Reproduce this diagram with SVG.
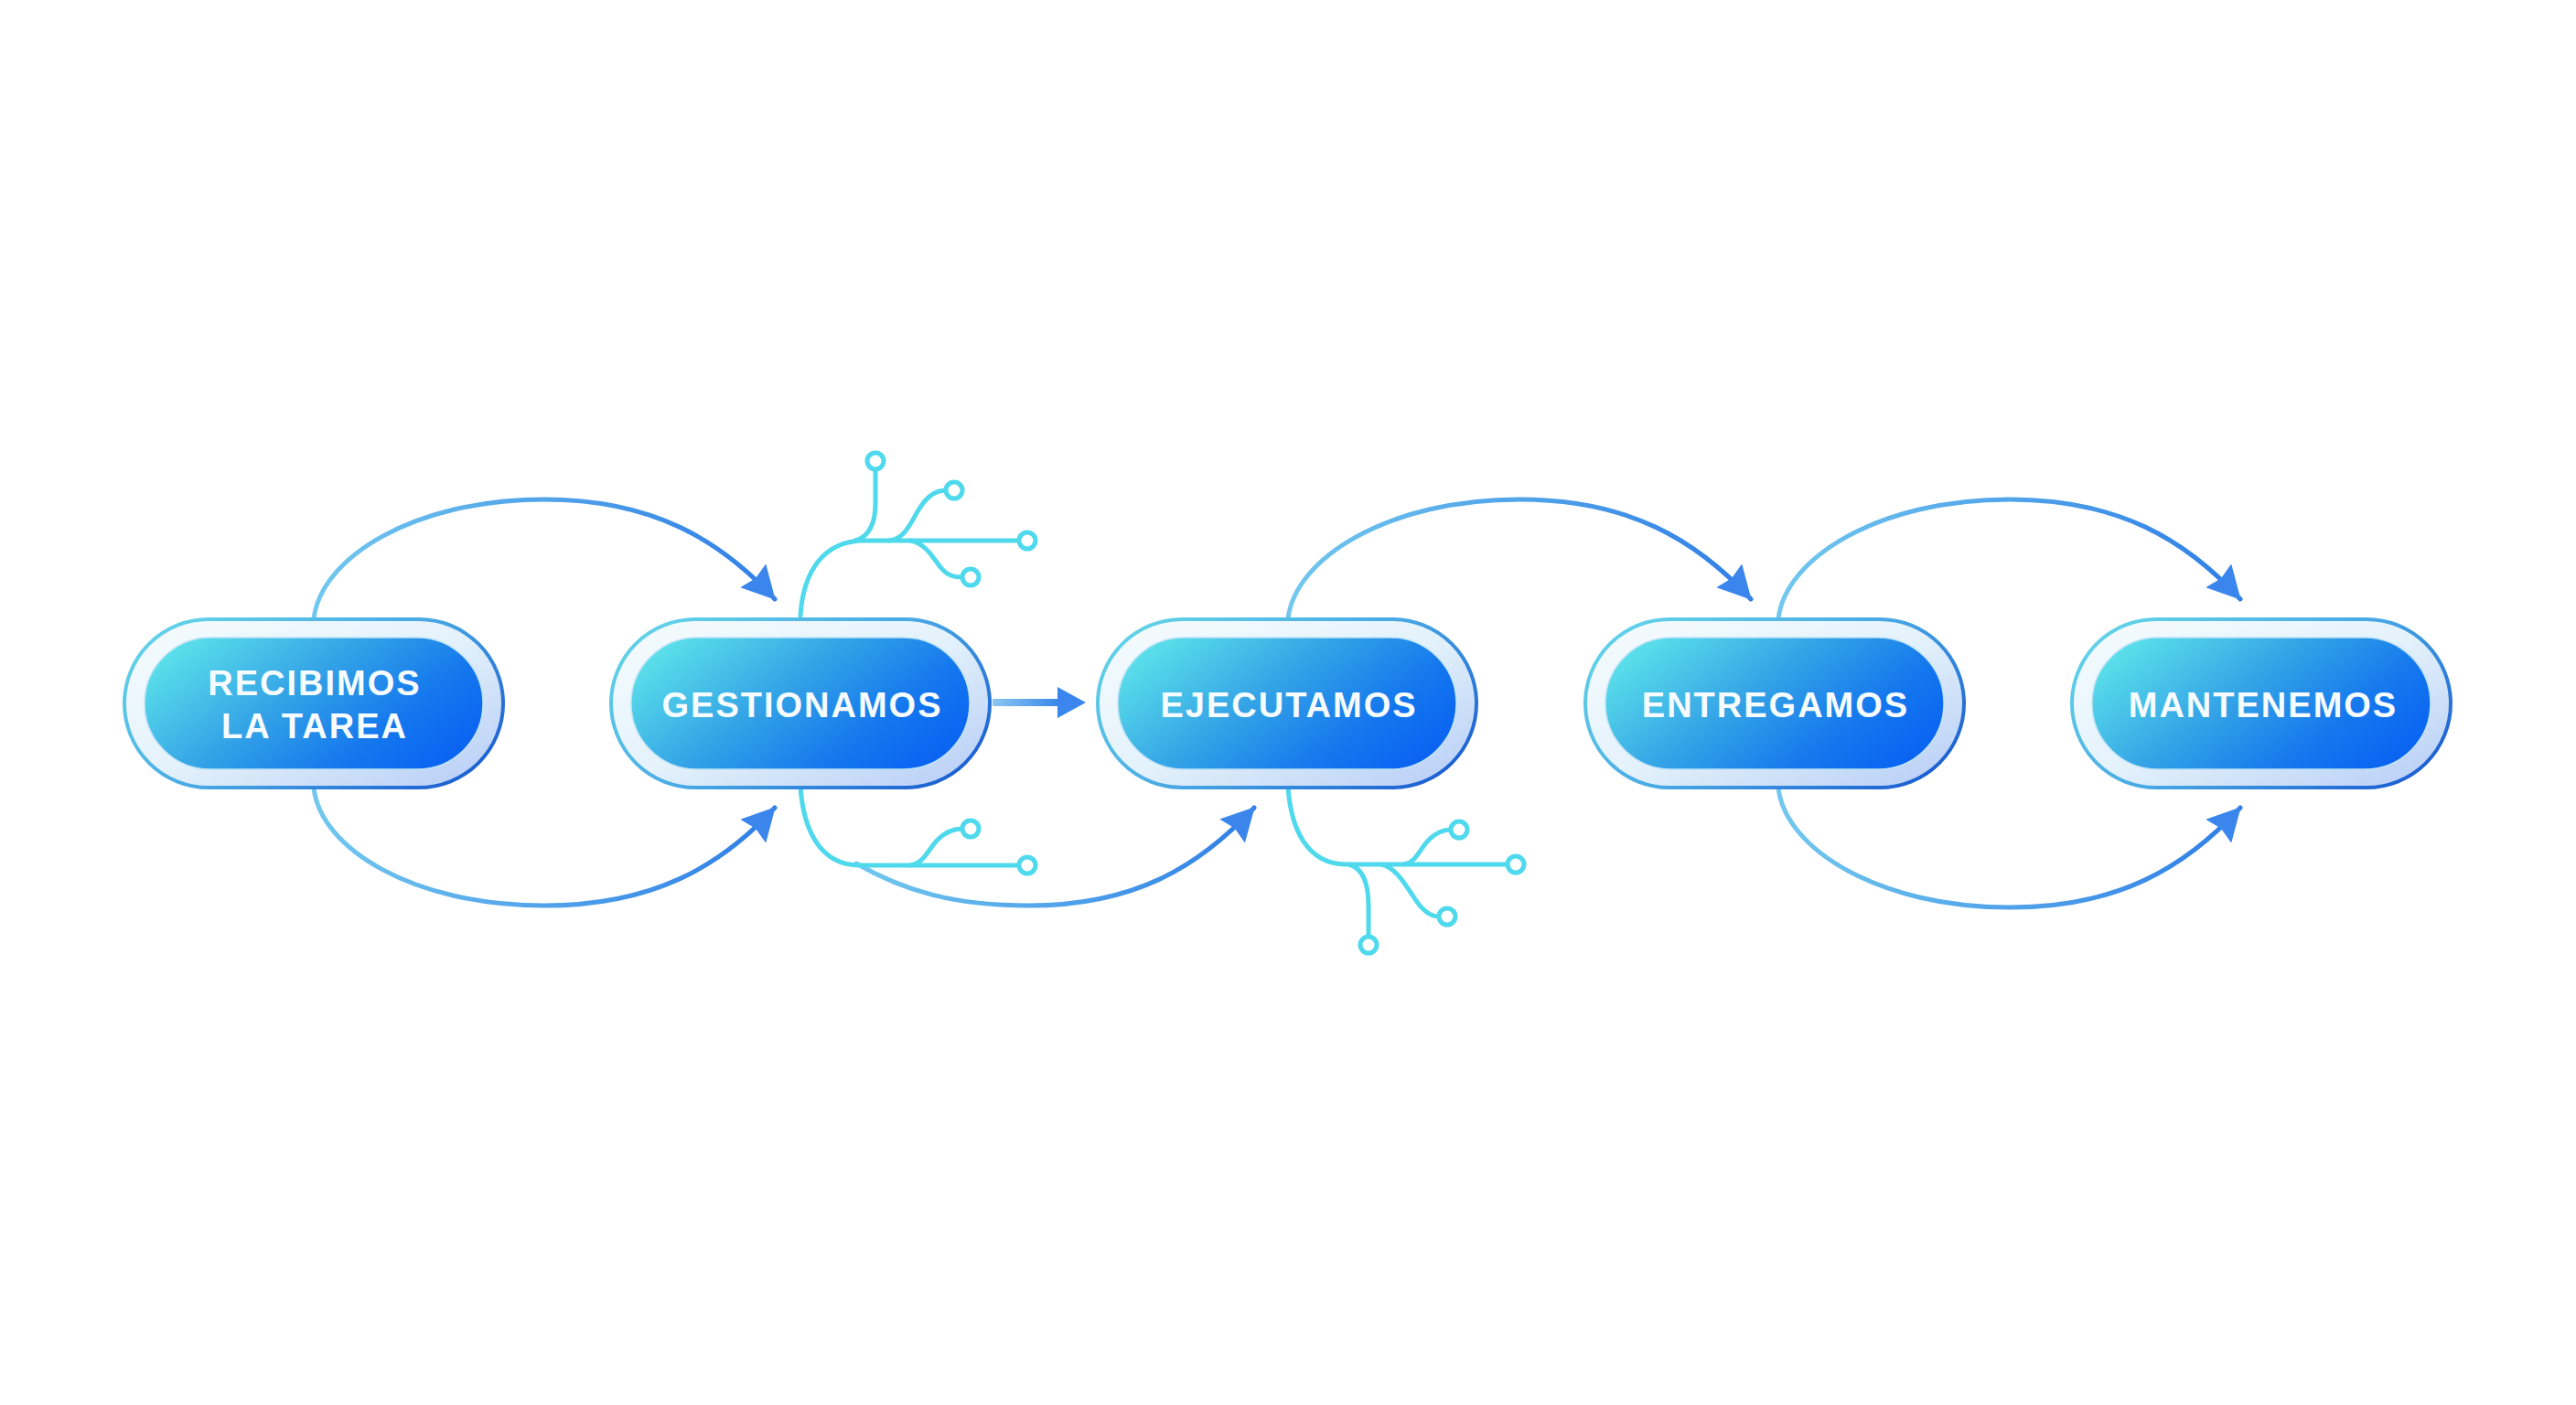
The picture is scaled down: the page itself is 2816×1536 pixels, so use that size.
<svg xmlns="http://www.w3.org/2000/svg" width="2816" height="1536" viewBox="0 0 2816 1536">
<defs>
<linearGradient id="ringStroke" x1="0" y1="0.2" x2="1" y2="0.8">
<stop offset="0" stop-color="#62d2e8"/>
<stop offset="0.5" stop-color="#48a8e4"/>
<stop offset="1" stop-color="#1c5fd2"/>
</linearGradient>
<linearGradient id="ringFill" x1="0" y1="0" x2="1" y2="1">
<stop offset="0" stop-color="#f6fcff"/>
<stop offset="0.5" stop-color="#e4f2fb"/>
<stop offset="1" stop-color="#b4cbf6"/>
</linearGradient>
<linearGradient id="innerFill" x1="0" y1="0.25" x2="1" y2="0.75">
<stop offset="0" stop-color="#5be0ea"/>
<stop offset="0.42" stop-color="#33a2e6"/>
<stop offset="0.75" stop-color="#1477ee"/>
<stop offset="1" stop-color="#0a63f2"/>
</linearGradient>
<linearGradient id="arcGrad" x1="0" y1="0" x2="1" y2="0">
<stop offset="0" stop-color="#72c8ee"/>
<stop offset="1" stop-color="#2f7ee6"/>
</linearGradient>
<linearGradient id="hGrad" gradientUnits="userSpaceOnUse" x1="1085" y1="0" x2="1160" y2="0">
<stop offset="0" stop-color="#8cc6f2"/>
<stop offset="1" stop-color="#3585ea"/>
</linearGradient>
<marker id="ah" markerUnits="userSpaceOnUse" viewBox="0 0 36 38" markerWidth="36" markerHeight="38" refX="35" refY="19" orient="auto">
<path d="M0,0 L36,19 L0,38 L4,19 Z" fill="#3a86ec"/>
</marker>
</defs>
<style>
.ring{fill:url(#ringFill);stroke:url(#ringStroke);stroke-width:4}
.inner{fill:url(#innerFill);stroke:#bfe3f6;stroke-width:1.5}
.lbl{font-family:"Liberation Sans",Arial,sans-serif;font-weight:700;font-size:38px;fill:#f6fcff;letter-spacing:2px;text-anchor:middle}
.arc{fill:none;stroke:url(#arcGrad);stroke-width:5;stroke-linecap:round;marker-end:url(#ah)}
.circ{fill:none;stroke:#4fd9ec;stroke-width:5;stroke-linecap:round;stroke-linejoin:round}
.dot{fill:#ffffff;stroke:#4fd9ec;stroke-width:5}
</style>
<rect width="2816" height="1536" fill="#ffffff"/>

<g id="connectors">
<path class="arc" d="M343,677 C350,610 452,546 595,546 C713,546 787,590 847,655"/>
<path class="arc" d="M343,861 C350,928 452,990 595,990 C713,990 787,948 847,883"/>
<path class="arc" d="M936,944 C990,975 1045,990 1125,990 C1240,990 1310,948 1371,883"/>
<path class="arc" d="M1408,677 C1415,610 1518,546 1661,546 C1780,546 1854,590 1914,655"/>
<path class="arc" d="M1944,677 C1951,610 2054,546 2197,546 C2316,546 2389,590 2449,655"/>
<path class="arc" d="M1944,861 C1951,928 2054,992 2197,992 C2316,992 2389,948 2449,883"/>
<rect x="1085" y="764" width="75" height="8" fill="url(#hGrad)"/>
<path d="M1156,751 L1187,768 L1156,785 Z" fill="#3a86ec"/>
</g>

<g id="circuits">
<path class="circ" d="M875,673 C878,625 900,591 945,591 L1114,591"/>
<path class="circ" d="M935,591 C952,586 957,570 957,550 L957,513"/>
<path class="circ" d="M972,591 C990,589 996,570 1005,556 C1013,543 1022,536 1034,536"/>
<path class="circ" d="M995,591 C1012,594 1020,610 1028,620 C1036,630 1044,631 1052,631"/>
<circle class="dot" cx="1123" cy="591" r="9"/>
<circle class="dot" cx="957" cy="504" r="9"/>
<circle class="dot" cx="1043" cy="536" r="9"/>
<circle class="dot" cx="1061" cy="631" r="9"/>

<path class="circ" d="M875,860 C878,905 895,946 940,946 L1114,946"/>
<path class="circ" d="M995,946 C1010,944 1015,928 1025,918 C1033,910 1042,906 1052,906"/>
<circle class="dot" cx="1123" cy="946" r="9"/>
<circle class="dot" cx="1061" cy="906" r="9"/>

<path class="circ" d="M1408,860 C1411,905 1428,945 1472,945 L1648,945"/>
<path class="circ" d="M1535,945 C1548,943 1552,928 1562,918 C1570,910 1578,907 1586,907"/>
<path class="circ" d="M1510,945 C1525,948 1535,965 1545,980 C1553,993 1562,1002 1573,1002"/>
<path class="circ" d="M1475,945 C1492,950 1496,970 1496,990 L1496,1024"/>
<circle class="dot" cx="1657" cy="945" r="9"/>
<circle class="dot" cx="1595" cy="907" r="9"/>
<circle class="dot" cx="1582" cy="1002" r="9"/>
<circle class="dot" cx="1496" cy="1033" r="9"/>
</g>

<g id="node-recibimos">
<rect class="ring" x="136" y="677" width="414" height="184" rx="92"/>
<rect class="inner" x="158" y="697" width="370" height="144" rx="72"/>
<text class="lbl" x="344" y="760">RECIBIMOS</text>
<text class="lbl" x="344" y="807">LA TAREA</text>
</g>
<g id="node-gestionamos">
<rect class="ring" x="668" y="677" width="414" height="184" rx="92"/>
<rect class="inner" x="690" y="697" width="370" height="144" rx="72"/>
<text class="lbl" x="877" y="784">GESTIONAMOS</text>
</g>
<g id="node-ejecutamos">
<rect class="ring" x="1200" y="677" width="414" height="184" rx="92"/>
<rect class="inner" x="1222" y="697" width="370" height="144" rx="72"/>
<text class="lbl" x="1409" y="784">EJECUTAMOS</text>
</g>
<g id="node-entregamos">
<rect class="ring" x="1733" y="677" width="414" height="184" rx="92"/>
<rect class="inner" x="1755" y="697" width="370" height="144" rx="72"/>
<text class="lbl" x="1941" y="784">ENTREGAMOS</text>
</g>
<g id="node-mantenemos">
<rect class="ring" x="2265" y="677" width="414" height="184" rx="92"/>
<rect class="inner" x="2287" y="697" width="370" height="144" rx="72"/>
<text class="lbl" x="2474" y="784">MANTENEMOS</text>
</g>
</svg>
